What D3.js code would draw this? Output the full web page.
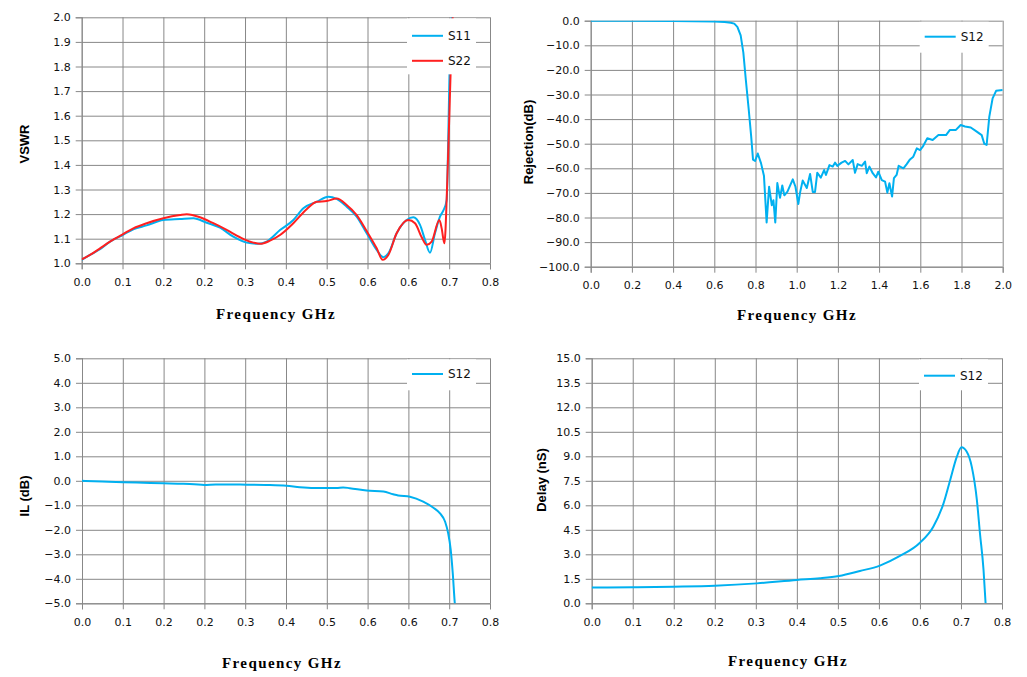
<!DOCTYPE html>
<html>
<head>
<meta charset="utf-8">
<script src="https://cdn.jsdelivr.net/npm/d3@7"></script>
<style>
  body { margin: 0; background: #fff; }
  .tick text { font-family: "DejaVu Sans", sans-serif; font-size: 11px; fill: #111; }
  .ytitle { font-family: "Liberation Sans", Arial, sans-serif; font-size: 13px; font-weight: bold; fill: #000; }
  .xtitle { font-family: "Liberation Serif", serif; font-size: 15px; font-weight: bold; letter-spacing: 1.4px; fill: #000; }
  .legend text { font-family: "DejaVu Sans", sans-serif; font-size: 12px; fill: #111; }
</style>
</head>
<body>
<svg id="chart" width="1027" height="677"></svg>
<script>
// ---- data ----
var freqS11 = [0, 0.0163, 0.0359, 0.0555, 0.0803, 0.1012, 0.1273, 0.16, 0.1927, 0.2188, 0.2449, 0.271, 0.2971, 0.3233, 0.3461, 0.3624, 0.3886, 0.4147, 0.4343, 0.4604, 0.4833, 0.4996, 0.5192, 0.5388, 0.5584, 0.578, 0.591, 0.6008, 0.6171, 0.6367, 0.6498, 0.6629, 0.6727, 0.6824, 0.6922, 0.702, 0.7085, 0.7151, 0.7184, 0.7216, 0.7249, 0.727];
var vswrS11 = [1.014, 1.034, 1.057, 1.088, 1.115, 1.138, 1.154, 1.176, 1.18, 1.183, 1.165, 1.145, 1.108, 1.084, 1.079, 1.088, 1.135, 1.176, 1.224, 1.25, 1.271, 1.262, 1.23, 1.19, 1.122, 1.054, 1.025, 1.04, 1.122, 1.176, 1.187, 1.156, 1.095, 1.043, 1.122, 1.19, 1.214, 1.257, 1.528, 1.867, 2.0, 2.3];
var freqS22 = [0, 0.0163, 0.0359, 0.0555, 0.0803, 0.1012, 0.1273, 0.16, 0.1927, 0.2057, 0.2318, 0.2579, 0.284, 0.3102, 0.3363, 0.3494, 0.369, 0.3886, 0.4147, 0.4408, 0.4604, 0.4800, 0.4996, 0.5192, 0.5388, 0.5584, 0.578, 0.5897, 0.6008, 0.6171, 0.64, 0.6531, 0.6661, 0.6759, 0.6857, 0.7008, 0.7053, 0.7106, 0.7164, 0.7203, 0.7242, 0.7268, 0.729];
var vswrS22 = [1.016, 1.034, 1.061, 1.088, 1.118, 1.142, 1.163, 1.183, 1.196, 1.199, 1.187, 1.163, 1.136, 1.106, 1.084, 1.079, 1.092, 1.115, 1.163, 1.22, 1.25, 1.253, 1.263, 1.237, 1.196, 1.131, 1.061, 1.014, 1.034, 1.122, 1.176, 1.163, 1.106, 1.075, 1.088, 1.176, 1.142, 1.081, 1.339, 1.6, 1.867, 2.0, 2.3];

var freqRej = [0, 0.2, 0.4, 0.6, 0.65, 0.68, 0.697, 0.712, 0.728, 0.741, 0.753, 0.767, 0.779, 0.788, 0.798, 0.811, 0.827, 0.841, 0.854, 0.866, 0.879, 0.887, 0.896, 0.906, 0.919, 0.93, 0.94, 0.955, 0.981, 0.994, 1.008, 1.016, 1.029, 1.049, 1.065, 1.078, 1.089, 1.1, 1.117, 1.133, 1.142, 1.159, 1.175, 1.186, 1.197, 1.218, 1.235, 1.251, 1.272, 1.283, 1.296, 1.316, 1.332, 1.34, 1.353, 1.369, 1.385, 1.396, 1.413, 1.429, 1.44, 1.45, 1.463, 1.472, 1.485, 1.495, 1.518, 1.534, 1.55, 1.566, 1.583, 1.599, 1.612, 1.634, 1.66, 1.688, 1.725, 1.744, 1.773, 1.796, 1.817, 1.845, 1.874, 1.898, 1.911, 1.922, 1.935, 1.951, 1.968, 2.0];
var rejS12 = [0, -0.05, -0.1, -0.3, -0.5, -0.8, -1.2, -2.5, -6, -13, -24, -36, -47, -56.5, -57, -54, -58, -63, -82, -67.5, -75, -73, -82, -66, -72, -67, -71, -69.5, -64.5, -67.5, -74.5, -70, -65, -68, -62.3, -69.6, -69.6, -61.8, -63.8, -60.7, -62.7, -58.7, -59.3, -57.7, -59, -57.7, -57, -58.4, -56.6, -61.8, -58.3, -59, -57.3, -62, -59.3, -62, -63.7, -61.4, -64.8, -65.4, -69.9, -66.1, -71.5, -64, -62.7, -59, -60, -58.3, -56.4, -55.3, -51.9, -52.6, -51.2, -47.8, -48.5, -46.5, -46.5, -44.4, -44.4, -42.4, -43, -43.4, -45.1, -46.5, -50.1, -50.5, -39, -31.6, -28.5, -28.2];

var freqIL = [0, 0.04, 0.081, 0.12, 0.159, 0.199, 0.22, 0.24, 0.262, 0.284, 0.323, 0.362, 0.401, 0.427, 0.455, 0.48, 0.499, 0.512, 0.525, 0.558, 0.591, 0.61, 0.62, 0.643, 0.669, 0.689, 0.702, 0.712, 0.718, 0.723, 0.727, 0.731, 0.734];
var ilS12 = [0, -0.03, -0.06, -0.08, -0.1, -0.12, -0.14, -0.17, -0.15, -0.15, -0.16, -0.17, -0.2, -0.26, -0.29, -0.29, -0.29, -0.27, -0.3, -0.4, -0.44, -0.55, -0.6, -0.65, -0.85, -1.1, -1.33, -1.67, -2.14, -2.82, -3.78, -5, -5.5];

var freqDelay = [0, 0.081, 0.159, 0.24, 0.322, 0.4, 0.445, 0.482, 0.523, 0.562, 0.601, 0.64, 0.666, 0.686, 0.699, 0.712, 0.721, 0.731, 0.741, 0.751, 0.757, 0.764, 0.768];
var delayS12 = [0.96, 0.98, 1.02, 1.08, 1.22, 1.43, 1.53, 1.67, 1.98, 2.31, 2.9, 3.71, 4.69, 6.12, 7.55, 8.98, 9.55, 9.29, 8.37, 6.33, 4.29, 2.04, 0];

var xTicksPass = [0, 0.08, 0.16, 0.24, 0.32, 0.40, 0.48, 0.56, 0.64, 0.72, 0.80];
var xTicksWide = [0, 0.2, 0.4, 0.6, 0.8, 1.0, 1.2, 1.4, 1.6, 1.8, 2.0];
var vswrTicks = [1.0, 1.1, 1.2, 1.3, 1.4, 1.5, 1.6, 1.7, 1.8, 1.9, 2.0];
var rejTicks = [0, -10, -20, -30, -40, -50, -60, -70, -80, -90, -100];
var ilTicks = [5, 4, 3, 2, 1, 0, -1, -2, -3, -4, -5];
var delayTicks = [0, 1.5, 3, 4.5, 6, 7.5, 9, 10.5, 12, 13.5, 15];

var BLUE = "#00b0f0", RED = "#ff2020", GRID = "#888888";

var svg = d3.select("#chart");
var fmt = d3.format(".1f");

function drawPanel(p, idx) {
    var w = p.right - p.left, h = p.bottom - p.top;
    var x = d3.scaleLinear().domain(p.xDomain).range([0, w]);
    var y = d3.scaleLinear().domain(p.yDomain).range([h, 0]);
    var g = svg.append("g").attr("transform", "translate(" + p.left + "," + p.top + ")");

    // grid
    g.append("g").call(d3.axisLeft(y).tickValues(p.yTicks).tickSize(-w).tickFormat(""))
        .call(function (s) { s.select(".domain").remove(); s.selectAll("line").attr("stroke", GRID); });
    g.append("g").attr("transform", "translate(0," + h + ")")
        .call(d3.axisBottom(x).tickValues(p.xTicks).tickSize(-h).tickFormat(""))
        .call(function (s) { s.select(".domain").remove(); s.selectAll("line").attr("stroke", GRID); });

    // axes
    g.append("g").call(d3.axisLeft(y).tickValues(p.yTicks).tickSize(6).tickPadding(5).tickFormat(fmt))
        .call(function (s) { s.select(".domain").attr("stroke", GRID); s.selectAll("line").attr("stroke", GRID); });
    g.append("g").attr("transform", "translate(0," + h + ")")
        .call(d3.axisBottom(x).tickValues(p.xTicks).tickSize(6).tickPadding(9).tickFormat(fmt))
        .call(function (s) { s.select(".domain").attr("stroke", GRID); s.selectAll("line").attr("stroke", GRID); });

    // series
    svg.append("clipPath").attr("id", "clip" + idx)
        .append("rect").attr("width", w).attr("height", h);
    var plot = g.append("g").attr("clip-path", "url(#clip" + idx + ")");
    p.series.forEach(function (s) {
        var line = d3.line()
            .x(function (d, i) { return x(s.xs[i]); })
            .y(function (d) { return y(d); })
            .curve(p.curve);
        plot.append("path").datum(s.ys)
            .attr("fill", "none").attr("stroke", s.color).attr("stroke-width", 2)
            .attr("stroke-linejoin", "round")
            .attr("d", line);
    });

    // legend
    var lx = w - 83, ly = 1, lh = 31 + 25 * (p.series.length - 1);
    var lg = g.append("g").attr("class", "legend");
    lg.append("rect").attr("x", lx).attr("y", ly).attr("width", 69).attr("height", lh).attr("fill", "#fff");
    p.series.forEach(function (s, i) {
        var yy = p.legendY + i * 25;
        lg.append("line").attr("x1", lx + 5).attr("x2", lx + 36).attr("y1", yy).attr("y2", yy)
            .attr("stroke", s.color).attr("stroke-width", 2);
        lg.append("text").attr("x", lx + 41).attr("y", yy).attr("dy", "0.36em").text(s.name);
    });

    // titles
    svg.append("text").attr("class", "ytitle")
        .attr("transform", "translate(" + p.yTitle[0] + "," + p.yTitle[1] + ") rotate(-90)")
        .attr("text-anchor", "middle").attr("dy", "0.36em").text(p.yLabel);
    svg.append("text").attr("class", "xtitle")
        .attr("x", p.xTitle[0]).attr("y", p.xTitle[1]).attr("text-anchor", "middle")
        .text("Frequency GHz");
}

var panels = [
    { left: 81.7, right: 490, top: 17.3, bottom: 263.3, xDomain: [0, 0.8], yDomain: [1, 2],
      xTicks: xTicksPass, yTicks: vswrTicks, curve: d3.curveMonotoneX, legendY: 18.5,
      series: [{ name: "S11", xs: freqS11, ys: vswrS11, color: BLUE },
               { name: "S22", xs: freqS22, ys: vswrS22, color: RED }],
      yLabel: "VSWR", yTitle: [24, 144], xTitle: [276, 319] },
    { left: 590.7, right: 1002.7, top: 20.7, bottom: 266.7, xDomain: [0, 2], yDomain: [-100, 0],
      xTicks: xTicksWide, yTicks: rejTicks, curve: d3.curveLinear, legendY: 16,
      series: [{ name: "S12", xs: freqRej, ys: rejS12, color: BLUE }],
      yLabel: "Rejection(dB)", yTitle: [528, 142], xTitle: [797, 320] },
    { left: 82, right: 490, top: 358.3, bottom: 603.3, xDomain: [0, 0.8], yDomain: [-5, 5],
      xTicks: xTicksPass, yTicks: ilTicks, curve: d3.curveMonotoneX, legendY: 15.7,
      series: [{ name: "S12", xs: freqIL, ys: ilS12, color: BLUE }],
      yLabel: "IL (dB)", yTitle: [24, 496], xTitle: [282, 667.5] },
    { left: 591.7, right: 1002, top: 358.3, bottom: 603.3, xDomain: [0, 0.8], yDomain: [0, 15],
      xTicks: xTicksPass, yTicks: delayTicks, curve: d3.curveMonotoneX, legendY: 17.4,
      series: [{ name: "S12", xs: freqDelay, ys: delayS12, color: BLUE }],
      yLabel: "Delay (nS)", yTitle: [541, 480], xTitle: [788, 666] }
];

panels.forEach(drawPanel);
</script>
</body>
</html>
